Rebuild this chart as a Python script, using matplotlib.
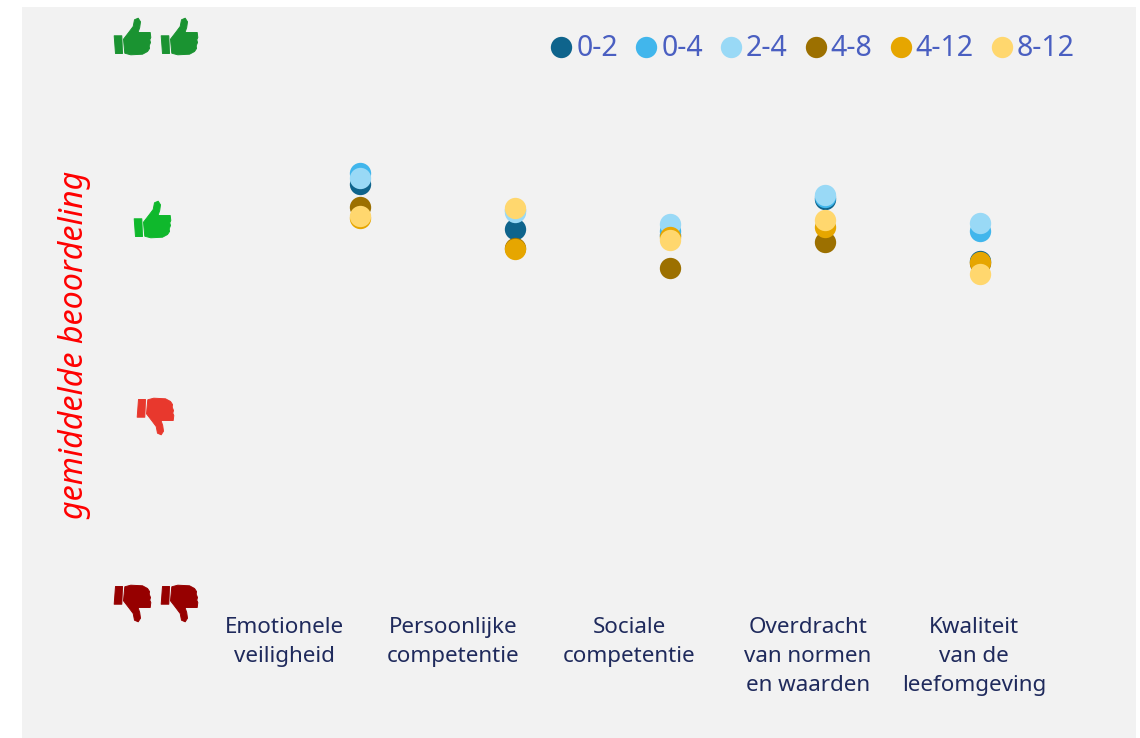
import matplotlib.pyplot as plt
from matplotlib.path import Path

plt.rcParams['font.family'] = ['Noto Sans', 'DejaVu Sans']

categories = ['Emotionele\nveiligheid', 'Persoonlijke\ncompetentie', 'Sociale\ncompetentie',
              'Overdracht\nvan normen\nen waarden', 'Kwaliteit\nvan de\nleefomgeving']
groups = ['0-2', '0-4', '2-4', '4-8', '4-12', '8-12']
group_colors = ['#0f648c', '#41b6ec', '#99d9f6', '#9c7000', '#e6a600', '#ffd76e']

# mean rating per group, one value per category (1 = two thumbs down, 4 = two thumbs up)
v_0_2 = [3.220, 2.982, 2.950, 3.141, 2.812]
v_0_4 = [3.279, 3.083, 2.972, 3.152, 2.972]
v_2_4 = [3.252, 3.072, 3.009, 3.162, 3.014]
v_4_8 = [3.099, 2.881, 2.776, 2.913, 2.802]
v_4_12 = [3.040, 2.876, 2.940, 2.993, 2.807]
v_8_12 = [3.051, 3.093, 2.924, 3.030, 2.744]
series = [v_0_2, v_0_4, v_2_4, v_4_8, v_4_12, v_8_12]

# thumb outline, pixels around its centre, y up
thumb_verts = [(-18.3, 0.7), (-10.7, 0.7), (-10, -17), (-17, -17), (-18.3, 0.7),
               (-9, -2.7), (-3.8, 4), (0.7, 10), (2, 16.7), (5.7, 18.3), (8, 14.7), (7.2, 9), (5.5, 4),
               (17.7, 4), (18.3, -1), (17.3, -3.3), (18, -6), (16.7, -9.3), (17, -12), (15, -15),
               (10, -17.7), (-1.7, -18.3), (-7.7, -16.7), (-9, -2.7)]
thumb_codes = [Path.MOVETO, Path.LINETO, Path.LINETO, Path.LINETO, Path.CLOSEPOLY] + \
              [Path.MOVETO] + [Path.LINETO] * 17 + [Path.CLOSEPOLY]
thumb_up = Path(thumb_verts, thumb_codes)
thumb_down = Path([(x, -y) for x, y in thumb_verts], thumb_codes)

fig = plt.figure(figsize=(11.4, 7.38), dpi=100, facecolor='white')
ax = fig.add_axes([22 / 1140, 0, (1136 - 22) / 1140, 731 / 738])
ax.set_facecolor('#f2f2f2')
ax.set_xlim(-2.181, 5.006)
ax.set_ylim(0.285, 4.158)
for s in ax.spines.values():
    s.set_visible(False)
ax.set_xticks([])
ax.set_yticks([])

xs = list(range(len(categories)))
for name, vals, col in zip(groups, series, group_colors):
    ax.scatter(xs, vals, s=236, color=col, label=name, zorder=3, linewidths=0)

# thumbs on the rating scale
ms = 36.6 * 72 / 100
ax.plot([-1.471, -1.168], [4.005, 4.005], ls='', marker=thumb_up, ms=ms, color='#1a9331', mew=0.7)
ax.plot([-1.345], [3.035], ls='', marker=thumb_up, ms=ms, color='#0fb82c', mew=0.7)
ax.plot([-1.323], [1.99], ls='', marker=thumb_down, ms=ms, color='#e8382d', mew=0.7)
ax.plot([-1.471, -1.168], [1, 1], ls='', marker=thumb_down, ms=ms, color='#960000', mew=0.7)

label_x = [-0.49, 0.60, 1.735, 2.89, 3.961]
for x, label in zip(label_x, categories):
    ax.text(x, 0.925, label, ha='center', va='top', fontsize=16.1, color='#1f2a5c', linespacing=1.48)

ax.text(-1.845, 2.37, 'gemiddelde beoordeling', rotation=90, ha='center', va='center',
        fontsize=23.2, style='italic', color='#ff0000')

leg = ax.legend(loc='upper right', bbox_to_anchor=(0.945, 0.963), ncol=6, frameon=False, fontsize=20.5,
                handlelength=0.5, handletextpad=0.28, columnspacing=0.73, borderpad=0, borderaxespad=0,
                scatterpoints=1, scatteryoffsets=[0.46])
for t in leg.get_texts():
    t.set_color('#4a5fc1')

fig.savefig('out.png', dpi=100)
